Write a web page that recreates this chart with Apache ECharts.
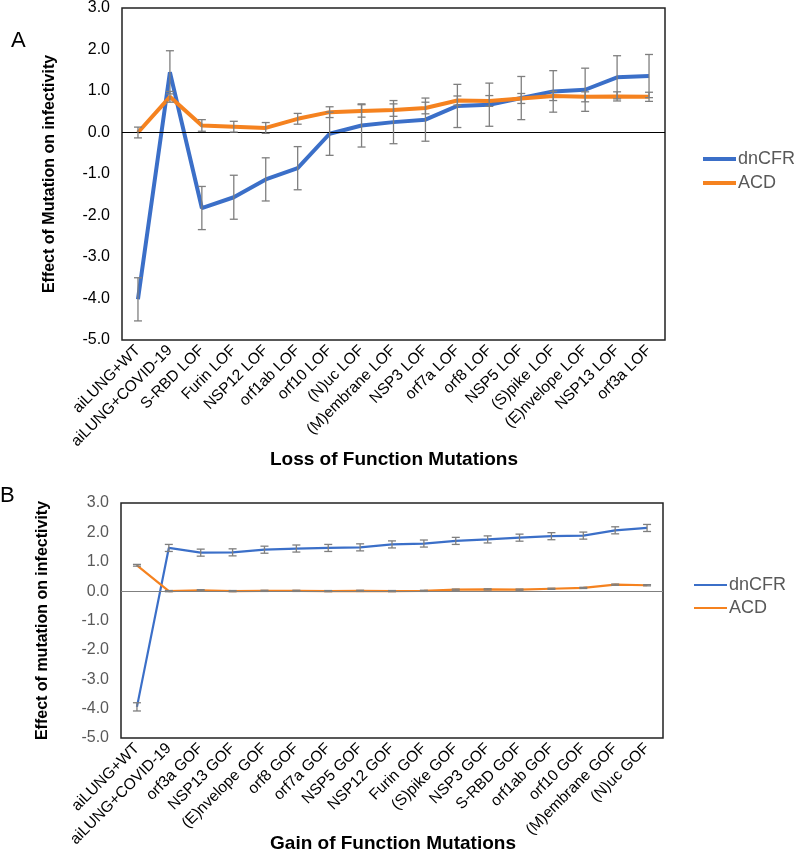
<!DOCTYPE html>
<html>
<head>
<meta charset="utf-8">
<script src="https://cdn.jsdelivr.net/npm/echarts@6/dist/echarts.min.js"></script>
<style>
  html, body { margin: 0; padding: 0; background: #fff; }
  #chart { width: 796px; height: 857px; }
</style>
</head>
<body>
<div id="chart"></div>
<script>
// panel A - loss of function
const categoriesA = ['aiLUNG+WT', 'aiLUNG+COVID-19', 'S-RBD LOF', 'Furin LOF', 'NSP12 LOF', 'orf1ab LOF', 'orf10 LOF', '(N)uc LOF', '(M)embrane LOF', 'NSP3 LOF', 'orf7a LOF', 'orf8 LOF', 'NSP5 LOF', '(S)pike LOF', '(E)nvelope LOF', 'NSP13 LOF', 'orf3a LOF'];
const dnCFR_A = [-4.02, 1.45, -1.82, -1.56, -1.13, -0.86, -0.03, 0.17, 0.25, 0.31, 0.64, 0.67, 0.83, 0.99, 1.03, 1.33, 1.36];
const dnCFR_A_err = [0.52, 0.52, 0.52, 0.53, 0.52, 0.52, 0.52, 0.52, 0.52, 0.52, 0.52, 0.52, 0.52, 0.5, 0.52, 0.52, 0.52];
const acd_A = [0.0, 0.86, 0.17, 0.14, 0.11, 0.33, 0.49, 0.52, 0.54, 0.59, 0.77, 0.76, 0.82, 0.88, 0.86, 0.87, 0.86];
const acd_A_err = [0.13, 0.13, 0.14, 0.13, 0.13, 0.13, 0.13, 0.15, 0.15, 0.14, 0.11, 0.13, 0.12, 0.11, 0.12, 0.11, 0.11];

// panel B - gain of function
const categoriesB = ['aiLUNG+WT', 'aiLUNG+COVID-19', 'orf3a GOF', 'NSP13 GOF', '(E)nvelope GOF', 'orf8 GOF', 'orf7a GOF', 'NSP5 GOF', 'NSP12 GOF', 'Furin GOF', '(S)pike GOF', 'NSP3 GOF', 'S-RBD GOF', 'orf1ab GOF', 'orf10 GOF', '(M)embrane GOF', '(N)uc GOF'];
const dnCFR_B = [-3.94, 1.47, 1.31, 1.32, 1.41, 1.45, 1.47, 1.49, 1.59, 1.62, 1.71, 1.76, 1.82, 1.87, 1.89, 2.07, 2.15];
const dnCFR_B_err = [0.14, 0.12, 0.12, 0.12, 0.12, 0.12, 0.12, 0.12, 0.12, 0.12, 0.12, 0.12, 0.12, 0.12, 0.12, 0.12, 0.12];
const acd_B = [0.88, 0.0, 0.03, 0.0, 0.01, 0.01, 0.0, 0.01, 0.0, 0.01, 0.05, 0.06, 0.05, 0.08, 0.11, 0.22, 0.2];
const acd_B_err = [0.03, 0.02, 0.02, 0.02, 0.02, 0.02, 0.02, 0.02, 0.02, 0.02, 0.02, 0.02, 0.02, 0.02, 0.02, 0.02, 0.02];

const yTicks = { min: -5, max: 3, interval: 1 };

const BLUE = '#3b6fc8';
const ORANGE = '#f5821f';
const FONT = 'Liberation Sans, Arial, sans-serif';

// error bars: vertical line + caps
function errSeries(name, vals, errs, xIdx, capW) {
  return {
    name: name,
    type: 'custom',
    xAxisIndex: xIdx,
    yAxisIndex: xIdx,
    z: 5,
    silent: true,
    data: vals.map((v, i) => [i, v - errs[i], v + errs[i]]),
    renderItem: function (params, api) {
      const lo = api.coord([api.value(0), api.value(1)]);
      const hi = api.coord([api.value(0), api.value(2)]);
      const st = { stroke: '#7f7f7f', lineWidth: 1.3 };
      return {
        type: 'group',
        children: [
          { type: 'line', shape: { x1: lo[0], y1: lo[1], x2: hi[0], y2: hi[1] }, style: st },
          { type: 'line', shape: { x1: lo[0] - capW, y1: lo[1], x2: lo[0] + capW, y2: lo[1] }, style: st },
          { type: 'line', shape: { x1: hi[0] - capW, y1: hi[1], x2: hi[0] + capW, y2: hi[1] }, style: st }
        ]
      };
    }
  };
}

function lineSeries(name, vals, idx, color, width, zeroLine) {
  const s = {
    name: name,
    type: 'line',
    xAxisIndex: idx,
    yAxisIndex: idx,
    data: vals,
    symbol: 'none',
    z: 3,
    lineStyle: { color: color, width: width },
    itemStyle: { color: color },
    animation: false
  };
  if (zeroLine) {
    s.markLine = {
      silent: true,
      symbol: 'none',
      label: { show: false },
      lineStyle: { color: zeroLine, width: 1, type: 'solid' },
      data: [{ yAxis: 0 }]
    };
  }
  return s;
}

function xAxisCfg(idx, cats) {
  return {
    type: 'category',
    gridIndex: idx,
    data: cats,
    axisLine: { show: false },
    axisTick: { show: false },
    axisLabel: { interval: 0, rotate: 45, margin: 8, color: '#000', fontSize: 15.5, fontFamily: FONT }
  };
}

function yAxisCfg(idx, title, labelColor, gap) {
  return {
    type: 'value',
    gridIndex: idx,
    min: yTicks.min,
    max: yTicks.max,
    interval: yTicks.interval,
    axisLine: { show: false },
    axisTick: { show: false },
    splitLine: { show: false },
    axisLabel: {
      color: labelColor, fontSize: 16, margin: 12, fontFamily: FONT,
      formatter: v => v.toFixed(1)
    },
    name: title,
    nameLocation: 'middle',
    nameRotate: 90,
    nameGap: gap,
    nameTextStyle: { color: '#000', fontSize: 16, fontWeight: 'bold', fontFamily: FONT }
  };
}

function titleText(text, x, y) {
  return {
    type: 'text', x: x, y: y,
    style: { text: text, fontSize: 19, fontWeight: 'bold', fill: '#000', fontFamily: FONT, align: 'center', verticalAlign: 'middle' }
  };
}

const option = {
  backgroundColor: '#fff',
  animation: false,
  grid: [
    { left: 122, top: 8, width: 543, height: 332, show: true, borderColor: '#222', borderWidth: 1.5, backgroundColor: 'transparent', outerBoundsMode: 'none' },
    { left: 121, top: 503, width: 542, height: 235, show: true, borderColor: '#222', borderWidth: 1.5, backgroundColor: 'transparent', outerBoundsMode: 'none' }
  ],
  xAxis: [
    xAxisCfg(0, categoriesA),
    xAxisCfg(1, categoriesB)
  ],
  yAxis: [
    yAxisCfg(0, 'Effect of Mutation on infectivity', '#000', 64),
    yAxisCfg(1, 'Effect of mutation on infectivity', '#595959', 70)
  ],
  legend: [
    {
      orient: 'vertical', left: 698, top: 145, itemGap: 6,
      itemWidth: 33, itemHeight: 4, icon: 'rect',
      data: ['dnCFR', 'ACD'],
      textStyle: { color: '#595959', fontSize: 18, fontFamily: FONT, padding: [0, 0, 0, -3] }
    },
    {
      orient: 'vertical', left: 689, top: 571, itemGap: 5,
      itemWidth: 33, itemHeight: 2, icon: 'rect',
      data: ['dnCFR', 'ACD'],
      textStyle: { color: '#595959', fontSize: 18, fontFamily: FONT, padding: [0, 0, 0, -3] }
    }
  ],
  graphic: [
    { type: 'text', left: 11, top: 30, style: { text: 'A', fontSize: 22, fill: '#000', fontFamily: FONT } },
    { type: 'text', left: 0, top: 485, style: { text: 'B', fontSize: 22, fill: '#000', fontFamily: FONT } },
    titleText('Loss of Function Mutations', 394, 460),
    titleText('Gain of Function Mutations', 393, 844)
  ],
  series: [
    lineSeries('dnCFR', dnCFR_A, 0, BLUE, 4, '#000'),
    errSeries('dnCFR', dnCFR_A, dnCFR_A_err, 0, 4),
    lineSeries('ACD', acd_A, 0, ORANGE, 4),
    errSeries('ACD', acd_A, acd_A_err, 0, 4),
    lineSeries('dnCFR', dnCFR_B, 1, BLUE, 2.2, '#808080'),
    errSeries('dnCFR', dnCFR_B, dnCFR_B_err, 1, 4),
    lineSeries('ACD', acd_B, 1, ORANGE, 2.2),
    errSeries('ACD', acd_B, acd_B_err, 1, 4)
  ]
};

const myChart = echarts.init(document.getElementById('chart'));
myChart.setOption(option);
</script>
</body>
</html>
